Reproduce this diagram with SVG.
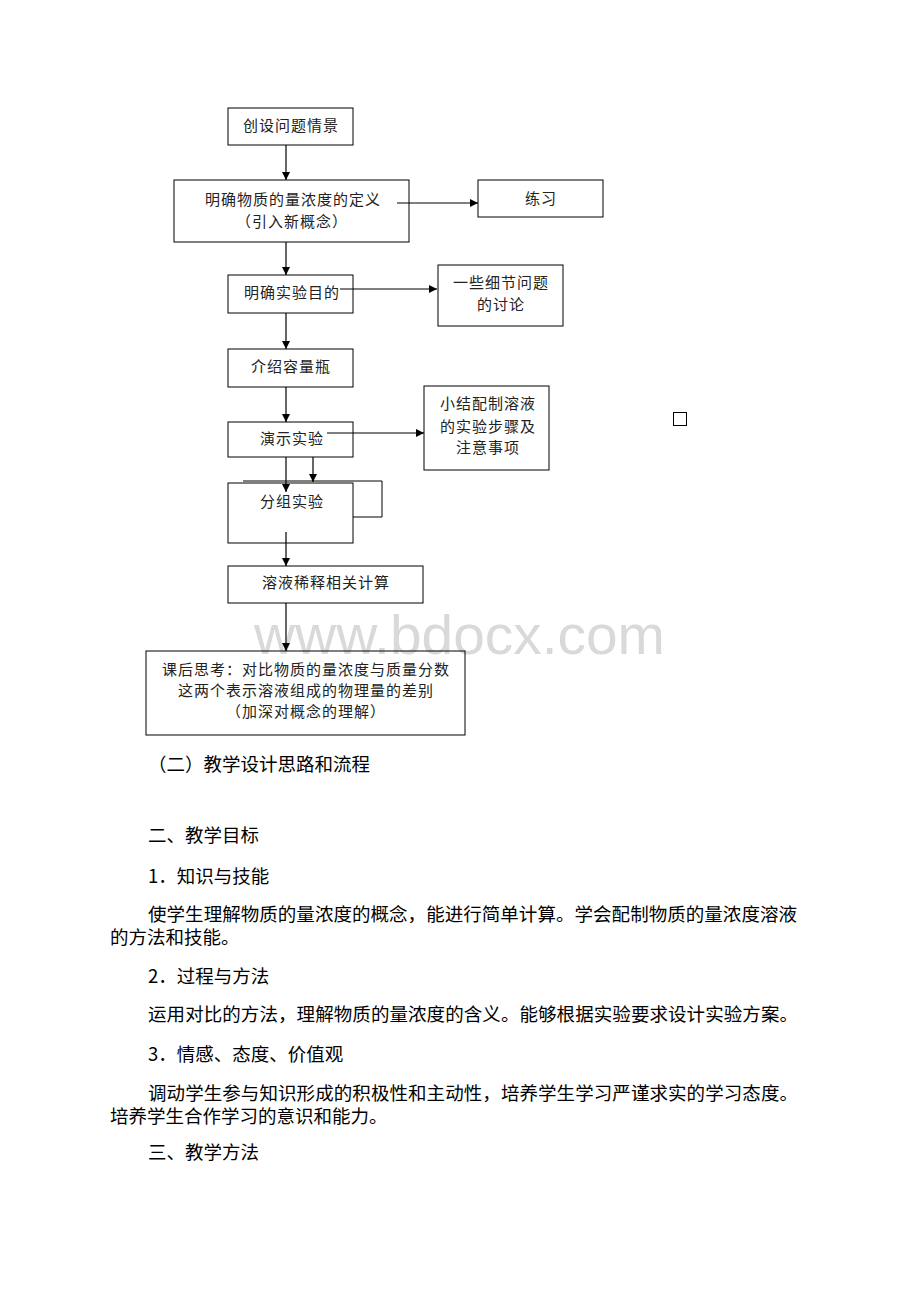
<svg xmlns="http://www.w3.org/2000/svg" width="920" height="1302" viewBox="0 0 920 1302">
<style>
.box{fill:none;stroke:#000;stroke-width:1}
.bt{font-family:"Noto Sans CJK SC","Noto Sans",sans-serif;font-size:15px;fill:#222;text-anchor:middle;letter-spacing:1px}
.body{font-family:"Noto Sans CJK SC","Noto Sans",sans-serif;font-size:18.5px;fill:#000}
.conn{stroke:#000;stroke-width:1.2;fill:none}
.wm{font-family:"Liberation Sans",Arial,sans-serif;font-size:56px;fill:#d9d9d9}
</style>
<defs>
<marker id="ah" viewBox="0 0 10 10" refX="10" refY="5" markerWidth="8" markerHeight="8" markerUnits="userSpaceOnUse" orient="auto">
<path d="M0,0 L10,5 L0,10 Z" fill="#000"/>
</marker>
</defs>
<rect width="920" height="1302" fill="#fff"/>
<text class="wm" x="254" y="654" textLength="411" lengthAdjust="spacingAndGlyphs">www.bdocx.com</text>

<g id="n1"><rect class="box" x="228" y="108" width="125" height="37"/><text class="bt" x="291" y="131">创设问题情景</text></g>
<g id="n2"><rect class="box" x="174" y="180" width="235" height="62"/><text class="bt" x="293" y="205">明确物质的量浓度的定义</text><text class="bt" x="292" y="227">（引入新概念）</text></g>
<g id="n3"><rect class="box" x="478" y="180" width="125" height="37"/><text class="bt" x="541" y="204">练习</text></g>
<g id="n4"><rect class="box" x="228" y="275" width="125" height="38"/><text class="bt" x="292" y="298">明确实验目的</text></g>
<g id="n5"><rect class="box" x="438" y="265" width="125" height="61"/><text class="bt" x="501" y="288">一些细节问题</text><text class="bt" x="501" y="310">的讨论</text></g>
<g id="n6"><rect class="box" x="228" y="349" width="125" height="38"/><text class="bt" x="291" y="372">介绍容量瓶</text></g>
<g id="n7"><rect class="box" x="424" y="386" width="125" height="84"/><text class="bt" x="488" y="409">小结配制溶液</text><text class="bt" x="488" y="432">的实验步骤及</text><text class="bt" x="488" y="453">注意事项</text></g>
<g id="n8"><rect class="box" x="228" y="422" width="125" height="35"/><text class="bt" x="292" y="444">演示实验</text></g>
<g id="n9"><path class="box" d="M243,481 H382 V517 H353"/><rect class="box" x="228" y="483" width="125" height="60"/><text class="bt" x="292" y="507">分组实验</text></g>
<g id="n10"><rect class="box" x="228" y="566" width="195" height="37"/><text class="bt" x="326" y="588">溶液稀释相关计算</text></g>
<g id="n11"><rect class="box" x="146" y="651" width="319" height="84"/><text class="bt" x="306" y="675">课后思考：对比物质的量浓度与质量分数</text><text class="bt" x="306" y="696">这两个表示溶液组成的物理量的差别</text><text class="bt" x="306" y="717">（加深对概念的理解）</text></g>
<g id="sq"><rect class="box" x="673.5" y="412.5" width="13" height="13"/></g>

<g id="connectors">
<line class="conn" x1="286" y1="145" x2="286" y2="180" marker-end="url(#ah)"/>
<line class="conn" x1="397" y1="203" x2="478" y2="203" marker-end="url(#ah)"/>
<line class="conn" x1="286" y1="242" x2="286" y2="275" marker-end="url(#ah)"/>
<line class="conn" x1="340" y1="289" x2="437" y2="289" marker-end="url(#ah)"/>
<line class="conn" x1="286" y1="313" x2="286" y2="349" marker-end="url(#ah)"/>
<line class="conn" x1="286" y1="387" x2="286" y2="422" marker-end="url(#ah)"/>
<line class="conn" x1="327" y1="433" x2="424" y2="433" marker-end="url(#ah)"/>
<line class="conn" x1="286" y1="457" x2="286" y2="492" marker-end="url(#ah)"/>
<line class="conn" x1="313" y1="457" x2="313" y2="482" marker-end="url(#ah)"/>
<line class="conn" x1="286" y1="532" x2="286" y2="566" marker-end="url(#ah)"/>
<line class="conn" x1="286" y1="603" x2="286" y2="651" marker-end="url(#ah)"/>
</g>

<g id="text">
<text class="body" x="148" y="771">（二）教学设计思路和流程</text>
<text class="body" x="148" y="842">二、教学目标</text>
<text class="body" x="148" y="883">1．知识与技能</text>
<text class="body" x="148" y="921" textLength="649">使学生理解物质的量浓度的概念，能进行简单计算。学会配制物质的量浓度溶液</text>
<text class="body" x="110" y="944">的方法和技能。</text>
<text class="body" x="148" y="983">2．过程与方法</text>
<text class="body" x="148" y="1021" textLength="650">运用对比的方法，理解物质的量浓度的含义。能够根据实验要求设计实验方案。</text>
<text class="body" x="148" y="1061">3．情感、态度、价值观</text>
<text class="body" x="148" y="1100" textLength="650">调动学生参与知识形成的积极性和主动性，培养学生学习严谨求实的学习态度。</text>
<text class="body" x="110" y="1123">培养学生合作学习的意识和能力。</text>
<text class="body" x="148" y="1159">三、教学方法</text>
</g>
</svg>
